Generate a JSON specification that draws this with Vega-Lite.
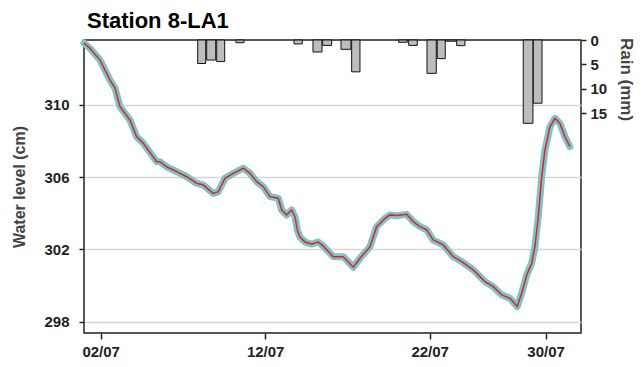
{
  "$schema": "https://vega.github.io/schema/vega-lite/v6.json",
  "width": 497,
  "height": 293,
  "autosize": {"type": "none"},
  "padding": {"left": 84, "top": 40, "right": 60, "bottom": 34},
  "title": {"text": "Station 8-LA1", "anchor": "start", "frame": "group", "dx": 3, "offset": 0, "fontSize": 22, "fontWeight": "bold", "color": "#000", "font": "Liberation Sans"},
  "config": {
    "view": {"stroke": "#222", "strokeWidth": 1.5},
    "axis": {"domain": false, "labelFont": "Liberation Sans", "titleFont": "Liberation Sans", "labelFontWeight": "bold", "titleFontWeight": "bold", "labelColor": "#222", "titleColor": "#444", "tickColor": "#222", "tickWidth": 1.5, "labelFontSize": 15}
  },
  "datasets": {
    "level": [
      {"day": 0.985, "level": 313.41}, {"day": 1.35, "level": 313.12}, {"day": 1.957, "level": 312.47},
      {"day": 2.565, "level": 311.36}, {"day": 2.869, "level": 310.92}, {"day": 3.173, "level": 309.89},
      {"day": 3.781, "level": 309.15}, {"day": 4.188, "level": 308.23}, {"day": 4.59, "level": 307.87},
      {"day": 5.404, "level": 306.85}, {"day": 5.605, "level": 306.85}, {"day": 6.012, "level": 306.57},
      {"day": 6.62, "level": 306.3}, {"day": 7.228, "level": 306.02}, {"day": 7.836, "level": 305.66},
      {"day": 8.237, "level": 305.56}, {"day": 8.845, "level": 305.1}, {"day": 9.149, "level": 305.19},
      {"day": 9.556, "level": 305.93}, {"day": 10.061, "level": 306.21}, {"day": 10.669, "level": 306.49},
      {"day": 11.076, "level": 306.21}, {"day": 11.483, "level": 305.75}, {"day": 11.885, "level": 305.47},
      {"day": 12.292, "level": 304.92}, {"day": 12.796, "level": 304.83}, {"day": 13.003, "level": 304.18},
      {"day": 13.307, "level": 303.91}, {"day": 13.611, "level": 304.18}, {"day": 13.812, "level": 303.81},
      {"day": 13.951, "level": 303.08}, {"day": 14.115, "level": 302.69}, {"day": 14.419, "level": 302.41},
      {"day": 14.845, "level": 302.3}, {"day": 15.21, "level": 302.41}, {"day": 15.453, "level": 302.25},
      {"day": 16.14, "level": 301.6}, {"day": 16.748, "level": 301.6}, {"day": 17.356, "level": 301.02},
      {"day": 17.763, "level": 301.51}, {"day": 18.371, "level": 302.15}, {"day": 18.778, "level": 303.26},
      {"day": 19.283, "level": 303.72}, {"day": 19.587, "level": 303.91}, {"day": 19.994, "level": 303.87},
      {"day": 20.602, "level": 303.94}, {"day": 21.003, "level": 303.54}, {"day": 21.41, "level": 303.26},
      {"day": 21.818, "level": 303.08}, {"day": 22.219, "level": 302.52}, {"day": 22.827, "level": 302.25},
      {"day": 23.435, "level": 301.6}, {"day": 23.945, "level": 301.33}, {"day": 24.65, "level": 300.87},
      {"day": 25.362, "level": 300.22}, {"day": 25.866, "level": 299.94}, {"day": 26.377, "level": 299.49},
      {"day": 26.881, "level": 299.3}, {"day": 27.325, "level": 298.84}, {"day": 27.593, "level": 299.58},
      {"day": 27.897, "level": 300.59}, {"day": 28.201, "level": 301.24}, {"day": 28.401, "level": 302.15},
      {"day": 28.602, "level": 303.81}, {"day": 28.809, "level": 306.02}, {"day": 29.01, "level": 307.5},
      {"day": 29.313, "level": 308.78}, {"day": 29.617, "level": 309.25}, {"day": 29.921, "level": 308.97},
      {"day": 30.225, "level": 308.23}, {"day": 30.529, "level": 307.68}
    ],
    "rain": [
      {"start": 7.897, "end": 8.383, "rain": 4.8},
      {"start": 8.444, "end": 8.991, "rain": 4.1},
      {"start": 9.052, "end": 9.538, "rain": 4.4},
      {"start": 10.225, "end": 10.711, "rain": 0.55},
      {"start": 13.751, "end": 14.255, "rain": 0.8},
      {"start": 14.906, "end": 15.453, "rain": 2.45},
      {"start": 15.495, "end": 16.043, "rain": 1.1},
      {"start": 16.608, "end": 17.216, "rain": 1.9},
      {"start": 17.258, "end": 17.763, "rain": 6.5},
      {"start": 20.116, "end": 20.638, "rain": 0.47},
      {"start": 20.723, "end": 21.246, "rain": 1.1},
      {"start": 21.836, "end": 22.401, "rain": 6.8},
      {"start": 22.462, "end": 22.948, "rain": 3.8},
      {"start": 22.96, "end": 23.599, "rain": 0.25},
      {"start": 23.641, "end": 24.146, "rain": 1.15},
      {"start": 27.69, "end": 28.28, "rain": 17.0},
      {"start": 28.3, "end": 28.83, "rain": 12.9}
    ]
  },
  "encoding": {
    "x": {
      "field": "day", "type": "quantitative",
      "scale": {"domain": [0.985, 31.2], "nice": false, "zero": false},
      "axis": {"title": null, "grid": false, "values": [2, 12, 22, 29.05], "tickSize": 6, "labelPadding": 5,
        "labelExpr": "datum.value == 2 ? '02/07' : datum.value == 12 ? '12/07' : datum.value == 22 ? '22/07' : '30/07'"}
    }
  },
  "layer": [
    {
      "data": {"name": "level"},
      "encoding": {
        "y": {"field": "level", "type": "quantitative",
          "scale": {"domain": [297.38, 313.58], "nice": false, "zero": false},
          "axis": {"title": "Water level (cm)", "titleFontSize": 16, "values": [298, 302, 306, 310], "grid": true, "gridColor": "#d6d6d6", "gridWidth": 1.5, "tickSize": 5, "labelPadding": 10, "titlePadding": 16}}
      },
      "layer": [
        {"mark": {"type": "line", "color": "#7ac5c9", "strokeWidth": 7, "strokeJoin": "round", "strokeCap": "round"}},
        {"mark": {"type": "line", "color": "#e8201e", "strokeWidth": 1.5}}
      ]
    },
    {
      "data": {"name": "rain"},
      "mark": {"type": "rect", "fill": "#bdbdbd", "stroke": "#111", "strokeWidth": 1},
      "encoding": {
        "x": {"field": "start", "type": "quantitative"},
        "x2": {"field": "end"},
        "y": {"field": "rain", "type": "quantitative",
          "scale": {"domain": [0, 59.8], "reverse": true, "nice": false},
          "axis": {"orient": "right", "title": "Rain (mm)", "titleFontSize": 17, "values": [0, 5, 10, 15], "grid": false, "tickSize": 5, "labelPadding": 4, "titlePadding": 10, "titleY": 39, "titleAlign": "center"}},
        "y2": {"datum": 0}
      }
    }
  ],
  "resolve": {"scale": {"y": "independent"}}
}
